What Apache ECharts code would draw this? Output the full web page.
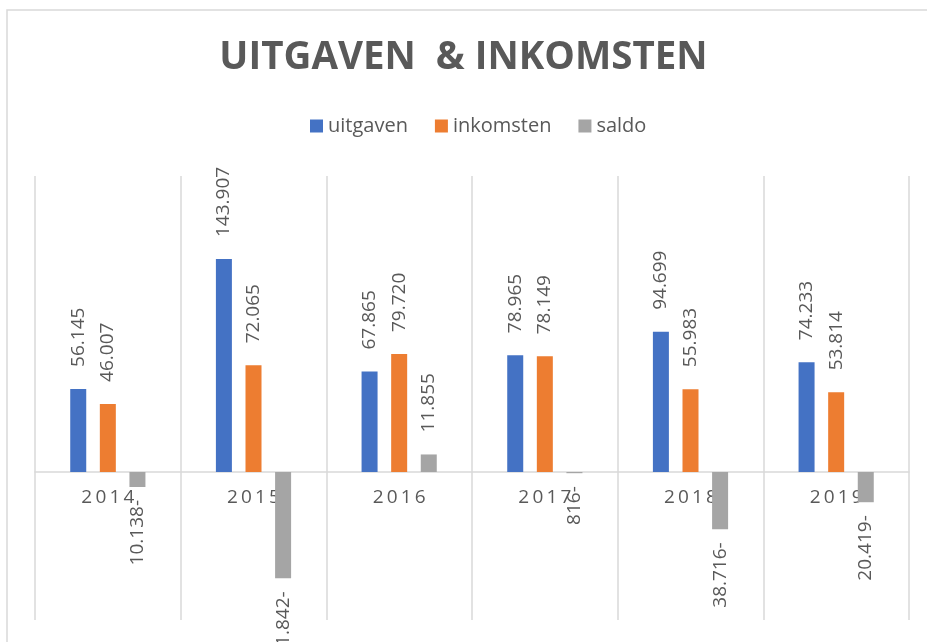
<!DOCTYPE html>
<html>
<head>
<meta charset="utf-8">
<script src="https://cdn.jsdelivr.net/npm/echarts@6/dist/echarts.min.js"></script>
<style>
html,body{margin:0;padding:0;background:#fff;}
#chart{width:927px;height:642px;}
</style>
</head>
<body>
<div id="chart"></div>
<script>
const categories = ['2014', '2015', '2016', '2017', '2018', '2019'];
const uitgaven = [56145, 143907, 67865, 78965, 94699, 74233];
const inkomsten = [46007, 72065, 79720, 78149, 55983, 53814];
const saldo = [-10138, -71842, 11855, -816, -38716, -20419];
const titleText = 'UITGAVEN  & INKOMSTEN';

const FONT = '"Open Sans", sans-serif';
const GRAY = '#595959';

function fmtNum(v) {
  const a = Math.abs(Math.round(v)).toString().replace(/\B(?=(\d{3})+(?!\d))/g, '.');
  return v < 0 ? a + '-' : a;
}
function spaced(s, sp) { return s.split('').join(sp); }

function makeData(arr) {
  return arr.map(v => ({
    value: v,
    label: v < 0
      ? { position: 'bottom', align: 'right', distance: 13 }
      : { position: 'top', align: 'left', distance: 22 }
  }));
}

const labelBase = {
  show: true,
  rotate: 90,
  verticalAlign: 'middle',
  color: GRAY,
  fontFamily: FONT,
  fontSize: 19,
  formatter: p => fmtNum(p.value)
};

const Y_MIN = -100000, Y_MAX = 200000;
const GRID_H = 642 - 176 - 22;

const chart = echarts.init(document.getElementById('chart'), null, { renderer: 'canvas' });
chart.setOption({
  animation: false,
  backgroundColor: '#fff',
  graphic: [{
    type: 'rect',
    shape: { x: 7, y: 10, width: 2000, height: 2000 },
    style: { fill: 'none', stroke: '#d9d9d9', lineWidth: 1.5 },
    silent: true
  }],
  title: {
    text: titleText,
    left: 'center',
    top: 34,
    textStyle: { color: GRAY, fontFamily: FONT, fontSize: 38.5, fontWeight: 'bold' }
  },
  legend: {
    top: 111,
    left: 305,
    itemWidth: 13,
    itemHeight: 13,
    itemGap: 27,
    icon: 'rect',
    textStyle: { color: GRAY, fontFamily: FONT, fontSize: 20, padding: [0, 0, 0, 0] }
  },
  grid: { left: 35, right: 18, top: 176, bottom: 22, containLabel: false, outerBoundsMode: 'none' },
  xAxis: {
    type: 'category',
    data: categories,
    offset: -GRID_H * (-Y_MIN) / (Y_MAX - Y_MIN),
    axisTick: { show: false },
    axisLine: { show: true, onZero: false, lineStyle: { color: '#d9d9d9', width: 1.5 } },
    axisLabel: {
      color: GRAY, fontFamily: FONT, fontSize: 19, margin: 16,
      formatter: v => spaced(v, '\u2009')
    },
    splitLine: { show: true, lineStyle: { color: '#d9d9d9', width: 1.5 } }
  },
  yAxis: {
    type: 'value',
    min: Y_MIN,
    max: Y_MAX,
    interval: 100000,
    show: true,
    axisLine: { show: false },
    axisTick: { show: false },
    axisLabel: { show: false },
    splitLine: { show: false }
  },
  series: [
    { name: 'uitgaven', type: 'bar', data: makeData(uitgaven), barWidth: 16, barGap: '85%',
      itemStyle: { color: '#4472C4' }, label: labelBase },
    { name: 'inkomsten', type: 'bar', data: makeData(inkomsten), barWidth: 16, barGap: '85%',
      itemStyle: { color: '#ED7D31' }, label: labelBase },
    { name: 'saldo', type: 'bar', data: makeData(saldo), barWidth: 16, barGap: '85%',
      itemStyle: { color: '#A5A5A5' }, label: labelBase }
  ]
});
</script>
</body>
</html>
